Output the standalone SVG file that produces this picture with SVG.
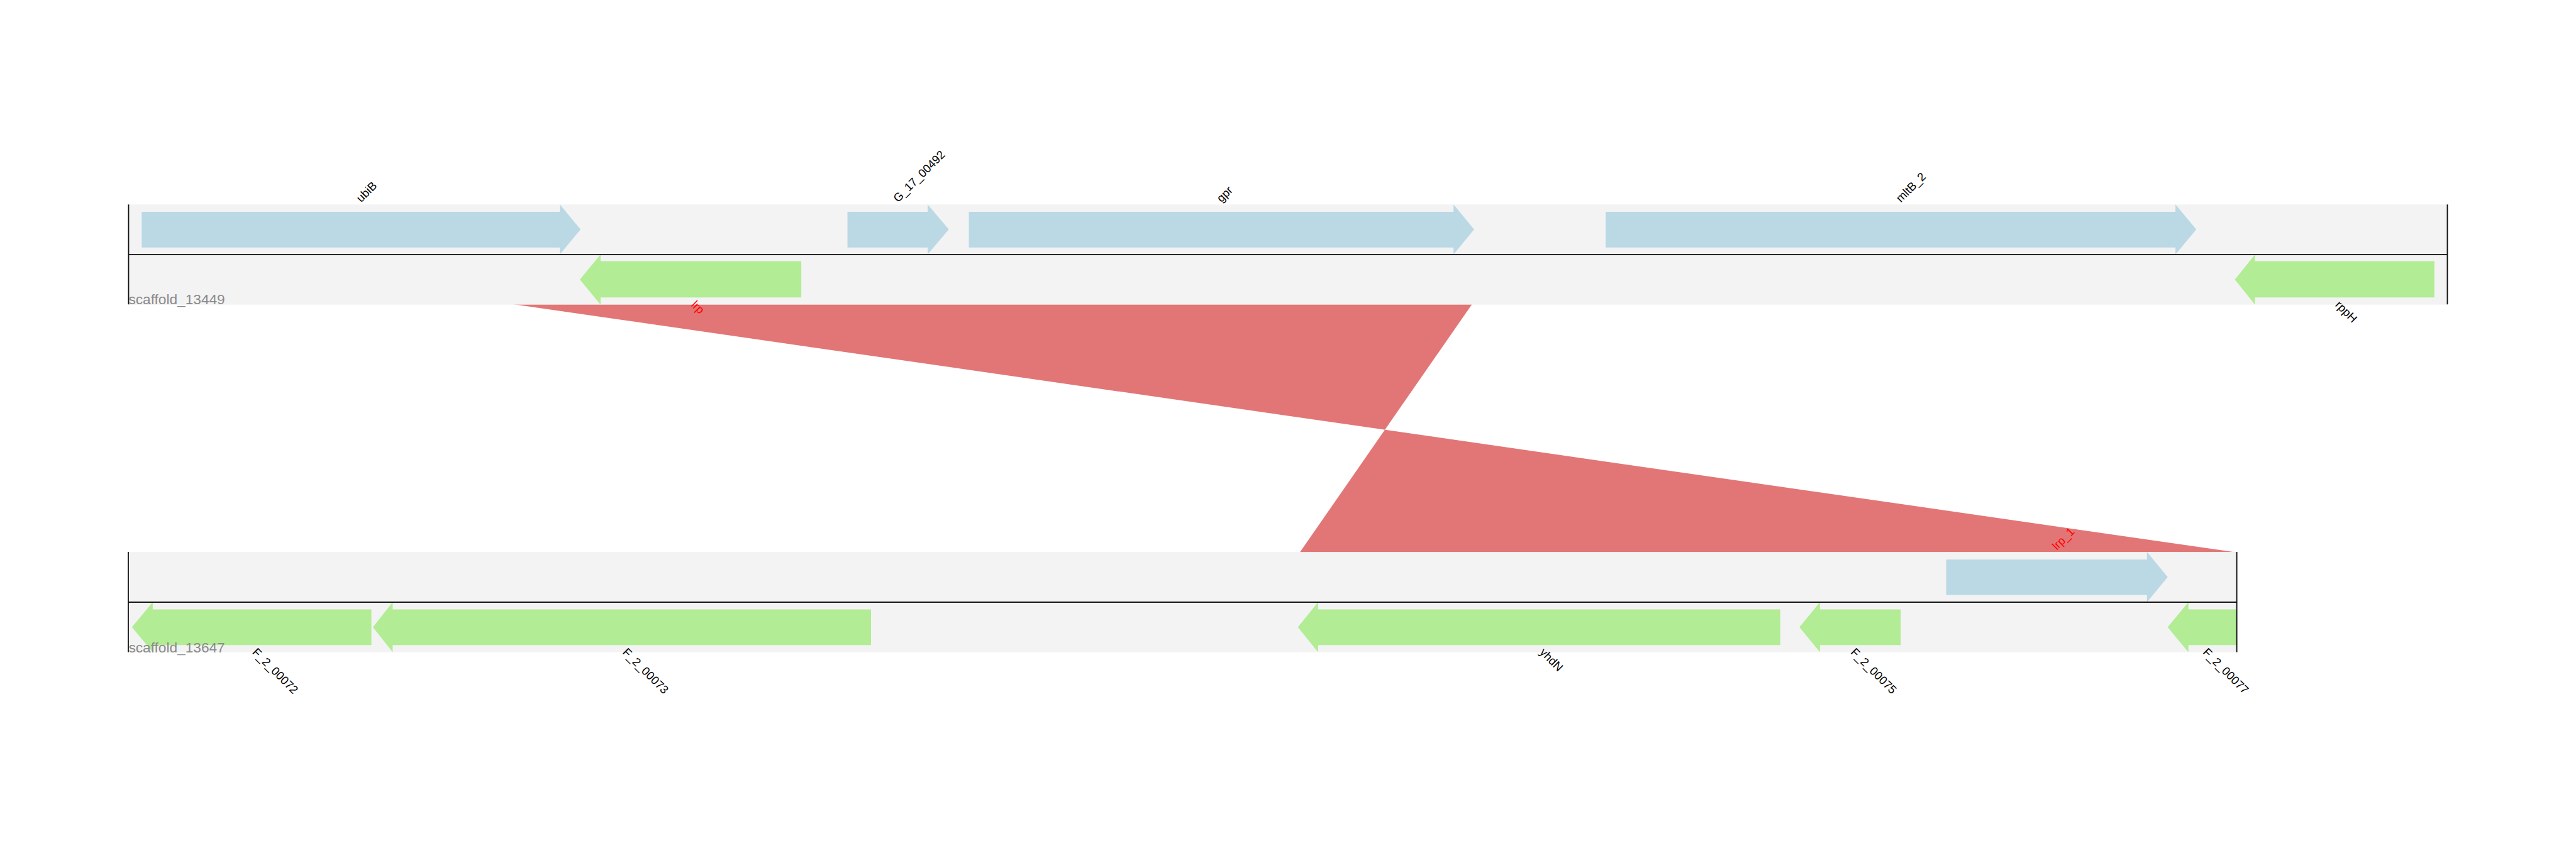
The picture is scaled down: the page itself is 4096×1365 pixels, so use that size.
<svg xmlns="http://www.w3.org/2000/svg" width="4096" height="1365" viewBox="0 0 4096 1365">
<style>
.band{fill:#f3f3f3}
.fwd{fill:#bbd8e5}
.rev{fill:#b2ec94}
.axis{stroke:#111;stroke-width:2;fill:none}
.edge{stroke:#111;stroke-width:2}
.lab{font-family:"Liberation Sans",Arial,Helvetica,sans-serif;font-size:20px;fill:#000}
.hl{fill:#ff0000}
.scf{font-family:"Liberation Sans",Arial,Helvetica,sans-serif;font-size:24.5px;fill:#8a8a8a}
.link{fill:#e27676}
</style>
<rect width="4096" height="1365" fill="#ffffff"/>
<g transform="scale(0.925)">
<g id="connectors">
<polygon class="link" points="878.3,522.7 2531,522.3 2234,950.5 3844.3,950"/>
</g>
<g id="scaffold_13449">
<rect class="band" x="221" y="351.7" width="3986" height="172.3"/>
<g id="gene_ubiB"><path class="fwd" d="M243.6,364.3 H962.4 V351.7 L998,394.7 L962.4,437.7 V425.7 H243.6 Z"/><text class="lab" transform="translate(620.8,349) rotate(-45)">ubiB</text></g>
<g id="gene_G_17_00492"><path class="fwd" d="M1456.8,364.3 H1594.6 V351.7 L1631,394.7 L1594.6,437.7 V425.7 H1456.8 Z"/><text class="lab" transform="translate(1543.9,349) rotate(-45)">G_17_00492</text></g>
<g id="gene_gpr"><path class="fwd" d="M1665.4,364.3 H2498.6 V351.7 L2534,394.7 L2498.6,437.7 V425.7 H1665.4 Z"/><text class="lab" transform="translate(2099.7,349) rotate(-45)">gpr</text></g>
<g id="gene_mltB_2"><path class="fwd" d="M2760,364.3 H3739.6 V351.7 L3775.4,394.7 L3739.6,437.7 V425.7 H2760 Z"/><text class="lab" transform="translate(3267.7,349) rotate(-45)">mltB_2</text></g>
<g id="gene_lrp"><path class="rev" d="M1377.4,449.3 H1032.4 V437.7 L996.8,480.85 L1032.4,524 V511.7 H1377.4 Z"/><text class="lab hl" transform="translate(1187.1,525.5) rotate(45)">lrp</text></g>
<g id="gene_rppH"><path class="rev" d="M4184.7,449.3 H3876.4 V437.7 L3841.7,480.85 L3876.4,524 V511.7 H4184.7 Z"/><text class="lab" transform="translate(4013.2,525.5) rotate(45)">rppH</text></g>
<line class="axis" x1="221" y1="437.7" x2="4207" y2="437.7"/>
<line class="edge" x1="221" y1="351.7" x2="221" y2="523.5"/>
<line class="edge" x1="4207" y1="351.7" x2="4207" y2="523.5"/>
<text class="scf" x="221" y="523">scaffold_13449</text>
</g>
<g id="scaffold_13647">
<rect class="band" x="220.5" y="949.3" width="3624.5" height="172.4"/>
<g id="gene_lrp_1"><path class="fwd" d="M3345.5,962.3 H3690.6 V949.3 L3726.2,992.5 L3690.6,1035.7 V1023.3 H3345.5 Z"/><text class="lab hl" transform="translate(3535.9,947) rotate(-45)">lrp_1</text></g>
<g id="gene_F_2_00072"><path class="rev" d="M638.4,1048 H262.5 V1035.7 L226.8,1078.7 L262.5,1121.7 V1109.4 H638.4 Z"/><text class="lab" transform="translate(432.6,1123) rotate(45)">F_2_00072</text></g>
<g id="gene_F_2_00073"><path class="rev" d="M1497.3,1048 H675 V1035.7 L641,1078.7 L675,1121.7 V1109.4 H1497.3 Z"/><text class="lab" transform="translate(1069.2,1123) rotate(45)">F_2_00073</text></g>
<g id="gene_yhdN"><path class="rev" d="M3060.2,1048 H2265.8 V1035.7 L2231,1078.7 L2265.8,1121.7 V1109.4 H3060.2 Z"/><text class="lab" transform="translate(2645.6,1123) rotate(45)">yhdN</text></g>
<g id="gene_F_2_00075"><path class="rev" d="M3267.3,1048 H3128.5 V1035.7 L3093.2,1078.7 L3128.5,1121.7 V1109.4 H3267.3 Z"/><text class="lab" transform="translate(3180.3,1123) rotate(45)">F_2_00075</text></g>
<g id="gene_F_2_00077"><path class="rev" d="M3845,1048 H3761.8 V1035.7 L3726.2,1078.7 L3761.8,1121.7 V1109.4 H3845 Z"/><text class="lab" transform="translate(3785.6,1123) rotate(45)">F_2_00077</text></g>
<line class="axis" x1="220.5" y1="1035.7" x2="3845" y2="1035.7"/>
<line class="edge" x1="220.5" y1="949.3" x2="220.5" y2="1121.7"/>
<line class="edge" x1="3845" y1="949.3" x2="3845" y2="1121.7"/>
<text class="scf" x="221" y="1121.7">scaffold_13647</text>
</g>
</g>
</svg>
